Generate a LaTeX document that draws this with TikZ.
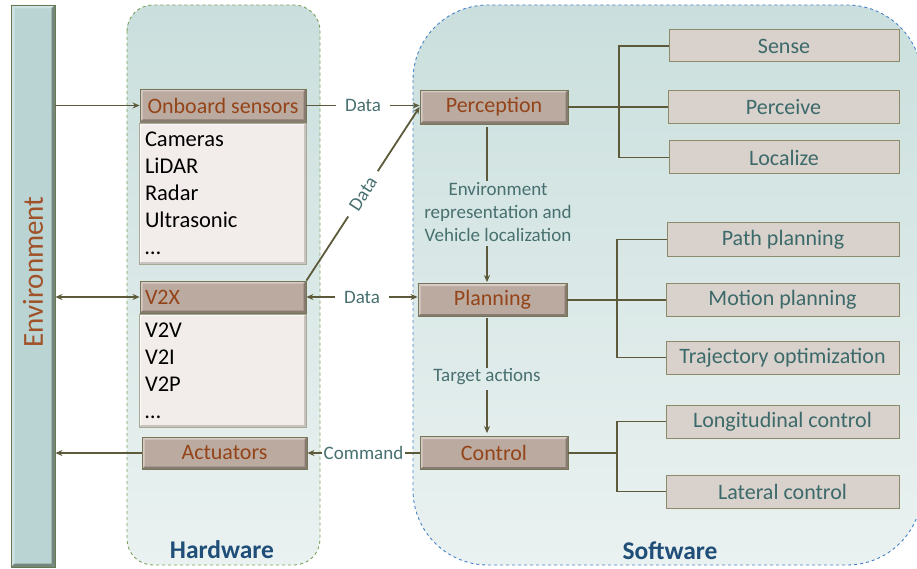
\documentclass[tikz,border=0pt]{standalone}
\usepackage{fontspec}
\setmainfont{Carlito}
\usetikzlibrary{arrows.meta,calc}
\definecolor{hdrfill}{RGB}{187,170,160}
\definecolor{hdrlight}{RGB}{214,203,196}
\definecolor{hdrdark}{RGB}{135,122,112}
\definecolor{hdrdraw}{RGB}{120,118,88}
\definecolor{hdrtext}{RGB}{148,68,24}
\definecolor{linec}{RGB}{92,90,58}
\definecolor{lblc}{RGB}{72,112,112}
\definecolor{rfill}{RGB}{217,209,204}
\definecolor{rdraw}{RGB}{140,138,105}
\definecolor{rtext}{RGB}{60,106,106}
\definecolor{lfill}{RGB}{242,237,234}
\definecolor{ldraw}{RGB}{168,168,150}
\definecolor{llight}{RGB}{252,250,249}
\definecolor{ldark}{RGB}{200,195,190}
\definecolor{envfill}{RGB}{186,211,211}
\definecolor{envlight}{RGB}{205,226,226}
\definecolor{envdark}{RGB}{115,135,125}
\definecolor{envdraw}{RGB}{105,120,80}
\definecolor{envtext}{RGB}{160,82,40}
\definecolor{ctop}{RGB}{202,223,221}
\definecolor{cbot}{RGB}{234,242,241}
\definecolor{hwdraw}{RGB}{120,160,90}
\definecolor{swdraw}{RGB}{70,130,200}
\definecolor{titlec}{RGB}{31,78,121}
\tikzset{
  bevel/.style n args={3}{path picture={
    \fill[#1] (path picture bounding box.north west) -- (path picture bounding box.north east)
      -- ([shift={(-#3,-#3)}]path picture bounding box.north east) -- ([shift={(#3,-#3)}]path picture bounding box.north west) -- cycle;
    \fill[#1] (path picture bounding box.north west) -- (path picture bounding box.south west)
      -- ([shift={(#3,#3)}]path picture bounding box.south west) -- ([shift={(#3,-#3)}]path picture bounding box.north west) -- cycle;
    \fill[#2] (path picture bounding box.south west) -- (path picture bounding box.south east)
      -- ([shift={(-#3,#3)}]path picture bounding box.south east) -- ([shift={(#3,#3)}]path picture bounding box.south west) -- cycle;
    \fill[#2] (path picture bounding box.south east) -- (path picture bounding box.north east)
      -- ([shift={(-#3,-#3)}]path picture bounding box.north east) -- ([shift={(-#3,#3)}]path picture bounding box.south east) -- cycle;
  }},
  hdr/.style={draw=hdrdraw, line width=0.8pt, fill=hdrfill, text=hdrtext, inner sep=0pt,
    font=\fontsize{22}{25}\selectfont, bevel={hdrlight}{hdrdark}{2.5pt}},
  listbox/.style={draw=ldraw, line width=0.8pt, fill=lfill, inner sep=0pt, align=left,
    text width=155pt, font=\fontsize{22.5}{27}\selectfont, bevel={llight}{ldark}{2pt}},
  sub/.style={draw=rdraw, line width=1pt, fill=rfill, text=rtext, inner sep=0pt,
    font=\fontsize{22}{25}\selectfont},
  lbl/.style={text=lblc, font=\fontsize{19}{23}\selectfont, inner sep=1pt, align=center},
  ln/.style={draw=linec, line width=1.8pt},
  br/.style={draw=linec, line width=1.2pt},
  arr/.style={ln, -{Stealth[length=7pt,width=6pt]}},
  arrb/.style={ln, {Stealth[length=7pt,width=6pt]}-{Stealth[length=7pt,width=6pt]}},
  container/.style={dashed, line width=0.9pt, top color=ctop, bottom color=cbot},
  title/.style={text=titlec, font=\fontsize{25.5}{28}\selectfont\bfseries}
}
\begin{document}
\begin{tikzpicture}[x=1pt,y=-1pt]
\useasboundingbox (0,0) rectangle (917,569);
% containers
\path[container, draw=hwdraw, rounded corners=26pt] (127,5) rectangle (320,565);
\path[container, draw=swdraw, rounded corners=75pt] (413,5) rectangle (922,565);
\node[title] (hwt) at (222,550) {Hardware};
\node[title] (swt) at (670,551) {Software};
% environment bar
\node[draw=envdraw, line width=0.8pt, fill=envfill, inner sep=0pt, minimum width=44pt, minimum height=562pt,
  bevel={envlight}{envdark}{3.5pt}] (env) at (33,286) {};
\node[rotate=90, text=envtext, font=\fontsize{29}{32}\selectfont] (envt) at (33,272) {Environment};
% hardware
\node[hdr, minimum width=166pt, minimum height=33pt] (sens) at (223,105.5) {Onboard sensors};
\node[listbox, minimum width=167pt, minimum height=141pt] (senslist) at (222.5,193.5)
  {Cameras\\LiDAR\\Radar\\Ultrasonic\\…};
\node[hdr, minimum width=166pt, minimum height=32pt, text width=156pt, align=left] (v2x) at (223,297) {V2X};
\node[listbox, minimum width=167pt, minimum height=113pt] (v2xlist) at (222.5,370.5)
  {V2V\\V2I\\V2P\\…};
\node[hdr, minimum width=165pt, minimum height=32pt] (act) at (224.5,453) {Actuators};
% software
\node[hdr, minimum width=148pt, minimum height=34pt] (perc) at (494,107) {Perception};
\node[hdr, minimum width=149pt, minimum height=33pt] (plan) at (492.5,300) {Planning};
\node[hdr, minimum width=148pt, minimum height=33pt] (ctrl) at (494,453) {Control};
\node[sub, minimum width=230pt, minimum height=32pt] (sense) at (784,46) {Sense};
\node[sub, minimum width=231pt, minimum height=33pt] (perceive) at (783.5,107) {Perceive};
\node[sub, minimum width=230pt, minimum height=33pt] (localize) at (784,157.5) {Localize};
\node[sub, minimum width=232pt, minimum height=33pt] (pathp) at (783,239.5) {Path planning};
\node[sub, minimum width=233pt, minimum height=33pt] (motion) at (782.5,300) {Motion planning};
\node[sub, minimum width=233pt, minimum height=33pt] (traj) at (782.5,357.5) {Trajectory optimization};
\node[sub, minimum width=233pt, minimum height=33pt] (longi) at (782.5,421.5) {Longitudinal control};
\node[sub, minimum width=233pt, minimum height=33pt] (lat) at (782.5,491.5) {Lateral control};
% branch lines
\coordinate (b1) at (619,0);
\coordinate (b2) at (617,0);
\draw[br] (perc.east) -- (perceive.west);
\draw[br] (sense.west) -- (sense.west -| b1) -- (localize.west -| b1) -- (localize.west);
\draw[br] (plan.east) -- (motion.west);
\draw[br] (pathp.west) -- (pathp.west -| b2) -- (traj.west -| b2) -- (traj.west);
\draw[br] (ctrl.east) -- (ctrl.east -| b2);
\draw[br] (longi.west) -- (longi.west -| b2) -- (lat.west -| b2) -- (lat.west);
% environment connections
\draw[arr] (env.east |- sens.west) -- (sens.west);
\draw[arrb] (env.east |- v2x.west) -- (v2x.west);
\draw[arr] (act.west) -- (env.east |- act.west);
% hardware - software
\draw[arr] (sens.east) -- node[lbl, fill=white, inner xsep=9pt] (ld1) {Data} (sens.east -| perc.west);
\draw[arr] (v2x.north east) -- node[lbl, sloped, fill=white, inner xsep=9pt] (ld2) {Data} (perc.west);
\draw[arrb] (v2x.east) -- node[lbl, fill=white, inner xsep=9pt] (ld3) {Data} (v2x.east -| plan.west);
\draw[arr] (ctrl.west) -- node[lbl, fill=white, inner xsep=2pt] (ld4) {Command} (ctrl.west -| act.east);
% software internal
\coordinate (vx) at (487,0);
\node[lbl] (ld5) at (498,212) {Environment\\representation and\\Vehicle localization};
\node[lbl] (ld6) at (487,377) {Target actions};
\draw[ln, line width=1.2pt, shorten <=3pt] (perc.south -| vx) -- (ld5.north -| vx);
\draw[arr, line width=1.2pt, shorten <=3pt, shorten >=1pt] (ld5.south -| vx) -- (plan.north -| vx);
\draw[ln, line width=1.2pt, shorten <=1pt] (plan.south -| vx) -- (ld6.north -| vx);
\draw[arr, line width=1.2pt, shorten <=4pt, shorten >=3pt] (ld6.south -| vx) -- (ctrl.north -| vx);
\end{tikzpicture}
\end{document}
